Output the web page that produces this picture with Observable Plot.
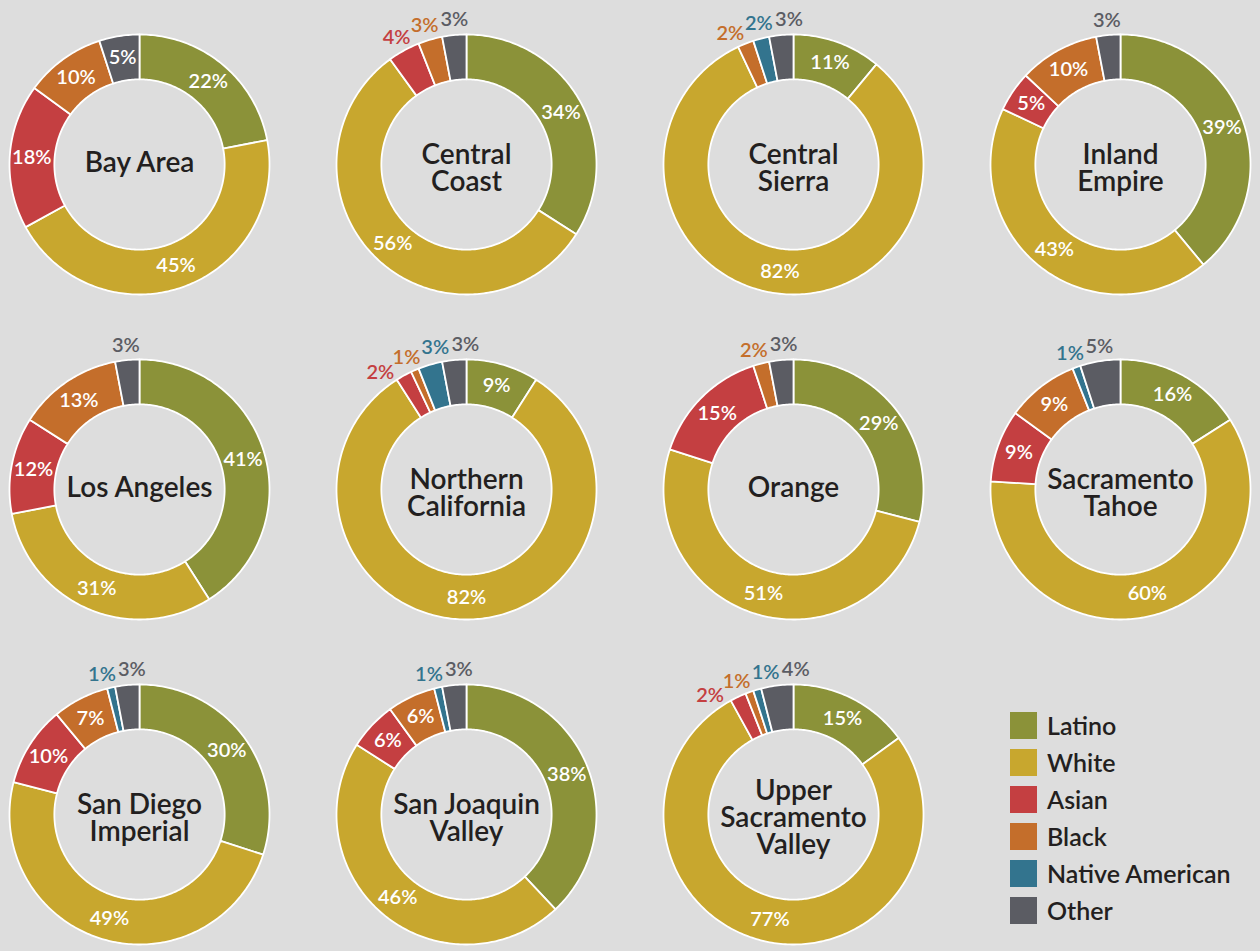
<!DOCTYPE html>
<html>
<head>
<meta charset="utf-8">
<script src="https://cdn.jsdelivr.net/npm/d3@7"></script>
<script src="https://cdn.jsdelivr.net/npm/@observablehq/plot@0.6"></script>
<style>
  html, body { margin: 0; padding: 0; background: #dddddd; }
  #wrap { position: relative; width: 1260px; height: 951px; background: #dddddd; font-family: Lato, "Open Sans", sans-serif; }
  #legend { position: absolute; left: 1010px; top: 712px; }
  .item { display: flex; align-items: center; height: 27px; margin-bottom: 10px; }
  .sw { width: 27px; height: 27px; margin-right: 10px; }
  .lab { font-size: 25px; font-weight: 600; color: #231f20; line-height: 27px; }
</style>
</head>
<body>
<div id="wrap"><div id="chart"></div><div id="legend"></div></div>
<script>
// ---- data ----
const regions = ["Bay Area", "Central Coast", "Central Sierra", "Inland Empire", "Los Angeles", "Northern California", "Orange", "Sacramento Tahoe", "San Diego Imperial", "San Joaquin Valley", "Upper Sacramento Valley"];
const regionLabels = ["Bay Area", "Central\nCoast", "Central\nSierra", "Inland\nEmpire", "Los Angeles", "Northern\nCalifornia", "Orange", "Sacramento\nTahoe", "San Diego\nImperial", "San Joaquin\nValley", "Upper\nSacramento\nValley"];
const races = ["Latino", "White", "Asian", "Black", "Native American", "Other"];
const raceColors = ["#8b9239", "#c8a72e", "#c43f41", "#c46e2b", "#33748e", "#5b5c63"];
const latino         = [22, 34, 11, 39, 41,  9, 29, 16, 30, 38, 15];
const white          = [45, 56, 82, 43, 31, 82, 51, 60, 49, 46, 77];
const asian          = [18,  4,  0,  5, 12,  2, 15,  9, 10,  6,  2];
const black          = [10,  3,  2, 10, 13,  1,  2,  9,  7,  6,  1];
const nativeAmerican = [ 0,  0,  2,  0,  0,  3,  0,  1,  1,  1,  1];
const other          = [ 5,  3,  3,  3,  3,  3,  3,  5,  3,  3,  4];
const series = [latino, white, asian, black, nativeAmerican, other];

// ---- derived geometry (from data) ----
const innerR = 0.655, labelInR = 0.83, labelOutR = 1.115, insideMin = 5;
const minGap = 12 * Math.PI / 180;
const pts = [], inLabels = [], outLabels = [], titles = [];
regions.forEach((region, i) => {
  const col = i % 4, row = Math.floor(i / 4);
  titles.push({region, label: regionLabels[i], col, row});
  const vals = series.map(s => s[i]);
  const total = d3.sum(vals);
  let cum = 0, prevOut = false;
  const outs = [];
  vals.forEach((v, k) => {
    if (v <= 0) return;
    const a0 = cum / total * 2 * Math.PI;
    cum += v;
    const a1 = cum / total * 2 * Math.PI;
    const key = region + "|" + races[k];
    const n = Math.max(2, Math.ceil((a1 - a0) / (Math.PI / 180)));
    const ring = [];
    for (let j = 0; j <= n; j++) { const a = a0 + (a1 - a0) * j / n; ring.push([Math.sin(a), Math.cos(a)]); }
    for (let j = n; j >= 0; j--) { const a = a0 + (a1 - a0) * j / n; ring.push([innerR * Math.sin(a), innerR * Math.cos(a)]); }
    ring.push(ring[0]);
    ring.forEach(([x, y]) => pts.push({x, y, key, race: races[k], col, row}));
    const am = (a0 + a1) / 2;
    const lab = {text: v + "%", race: races[k], col, row, a: am};
    const out = v < insideMin || (v === insideMin && prevOut);
    if (out) outs.push(lab); else inLabels.push(lab);
    prevOut = out;
  });
  // spread small outside labels apart along the arc
  outs.sort((p, q) => p.a - q.a);
  for (let it = 0; it < 200; it++) {
    for (let j = 0; j < outs.length - 1; j++) {
      const g = outs[j + 1].a - outs[j].a;
      if (g < minGap) { const d = (minGap - g) / 2; outs[j].a -= d; outs[j + 1].a += d; }
    }
  }
  outs.forEach(o => outLabels.push(o));
});
inLabels.forEach(l => { l.x = labelInR * Math.sin(l.a); l.y = labelInR * Math.cos(l.a); });
outLabels.forEach(l => { l.x = labelOutR * Math.sin(l.a); l.y = labelOutR * Math.cos(l.a); });
const oneLine = titles.filter(t => !t.label.includes("\n"));
const multiLine = titles.filter(t => t.label.includes("\n"));

const chart = Plot.plot({
  width: 1260, height: 951,
  marginTop: 34, marginBottom: 7, marginLeft: 9, marginRight: 10,
  style: {background: "transparent", fontFamily: "Lato, 'Open Sans', sans-serif", overflow: "visible"},
  x: {domain: [-1, 1], axis: null},
  y: {domain: [-1, 1], axis: null},
  fx: {domain: [0, 1, 2, 3], axis: null, paddingInner: 0.205, paddingOuter: 0},
  fy: {domain: [0, 1, 2], axis: null, paddingInner: 0.2, paddingOuter: 0},
  color: {domain: races, range: raceColors},
  marks: [
    Plot.line(pts, {x: "x", y: "y", z: "key", fill: "race", stroke: "white", strokeWidth: 1.8, strokeLinejoin: "round", fx: "col", fy: "row"}),
    Plot.text(inLabels, {x: "x", y: "y", text: "text", fill: "white", fontSize: 20, fontWeight: 600, fx: "col", fy: "row"}),
    Plot.text(outLabels, {x: "x", y: "y", text: "text", fill: "race", fontSize: 20, fontWeight: 600, fx: "col", fy: "row"}),
    Plot.text(oneLine, {frameAnchor: "middle", text: "label", fill: "#231f20", fontSize: 28, fontWeight: 600, fx: "col", fy: "row", dy: -1}),
    Plot.text(multiLine, {frameAnchor: "middle", text: "label", fill: "#231f20", fontSize: 28, fontWeight: 600, lineHeight: 0.96, fx: "col", fy: "row", dy: 4})
  ]
});
document.getElementById("chart").appendChild(chart);

const legend = document.getElementById("legend");
races.forEach((r, k) => {
  const it = document.createElement("div"); it.className = "item";
  const sw = document.createElement("div"); sw.className = "sw"; sw.style.background = raceColors[k];
  const lb = document.createElement("div"); lb.className = "lab"; lb.textContent = r;
  it.appendChild(sw); it.appendChild(lb); legend.appendChild(it);
});
</script>
</body>
</html>
